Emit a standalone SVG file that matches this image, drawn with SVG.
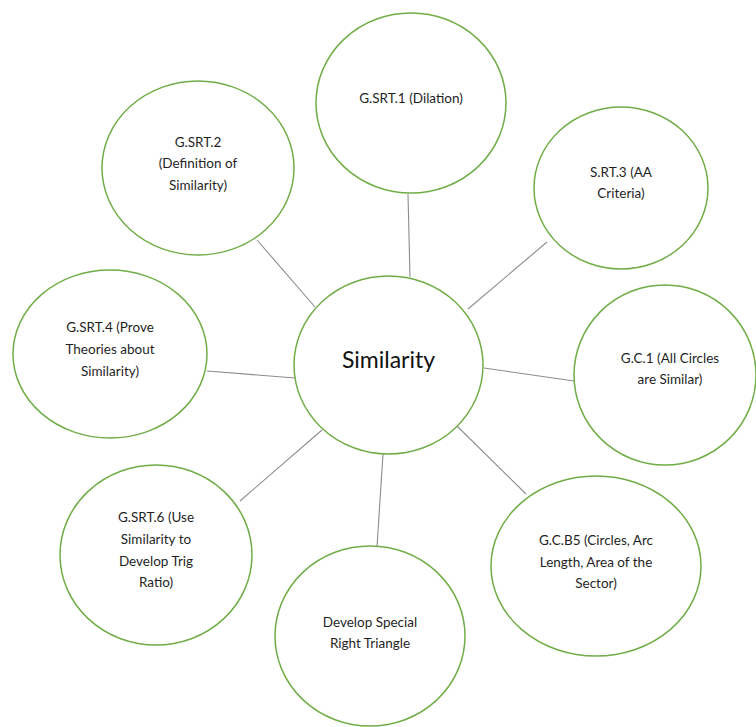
<svg xmlns="http://www.w3.org/2000/svg" width="756" height="727" viewBox="0 0 756 727">
<style>
.n{fill:#fff;stroke:#70ad47;stroke-width:1.5}
.c line{stroke:#8c8c8c;stroke-width:1.1}
text{font-family:Lato,"Liberation Sans",sans-serif;font-size:13.5px;fill:#1f1f1f;text-anchor:middle}
.big{font-size:23px;fill:#111}
</style>
<rect width="756" height="727" fill="#fff"/>
<g class="c" id="connectors">
<line x1="408" y1="194" x2="410" y2="277"/>
<line x1="547" y1="242" x2="468" y2="309"/>
<line x1="257" y1="240" x2="315" y2="307"/>
<line x1="207" y1="371" x2="295" y2="378"/>
<line x1="484" y1="368" x2="574" y2="381"/>
<line x1="457" y1="426" x2="526" y2="494"/>
<line x1="383" y1="454" x2="377" y2="547"/>
<line x1="240" y1="501" x2="322" y2="430"/>
</g>
<g id="n-similarity">
<ellipse class="n" cx="388.5" cy="365" rx="94.5" ry="89"/>
<text class="big" x="388.5" y="368">Similarity</text>
</g>
<g id="n-gsrt1">
<ellipse class="n" cx="411" cy="103" rx="95" ry="90"/>
<text x="411" y="103">G.SRT.1 (Dilation)</text>
</g>
<g id="n-gsrt2">
<ellipse class="n" cx="198" cy="168" rx="96" ry="87"/>
<text x="198" y="147">G.SRT.2</text>
<text x="198" y="168">(Definition of</text>
<text x="198" y="190">Similarity)</text>
</g>
<g id="n-srt3">
<ellipse class="n" cx="621" cy="188" rx="87" ry="81"/>
<text x="621" y="177">S.RT.3 (AA</text>
<text x="621" y="198">Criteria)</text>
</g>
<g id="n-gsrt4">
<ellipse class="n" cx="110" cy="354" rx="97" ry="84"/>
<text x="110" y="332">G.SRT.4 (Prove</text>
<text x="110" y="354">Theories about</text>
<text x="110" y="376">Similarity)</text>
</g>
<g id="n-gc1">
<ellipse class="n" cx="665" cy="375" rx="91" ry="90"/>
<text x="670" y="363">G.C.1 (All Circles</text>
<text x="670" y="384">are Similar)</text>
</g>
<g id="n-gsrt6">
<ellipse class="n" cx="156" cy="555" rx="96" ry="90"/>
<text x="156" y="522">G.SRT.6 (Use</text>
<text x="156" y="544">Similarity to</text>
<text x="156" y="566">Develop Trig</text>
<text x="156" y="587">Ratio)</text>
</g>
<g id="n-develop">
<ellipse class="n" cx="370" cy="636" rx="95" ry="90"/>
<text x="370" y="627">Develop Special</text>
<text x="370" y="648">Right Triangle</text>
</g>
<g id="n-gcb5">
<ellipse class="n" cx="596" cy="566" rx="105" ry="90"/>
<text x="596" y="545">G.C.B5 (Circles, Arc</text>
<text x="596" y="567">Length, Area of the</text>
<text x="596" y="588">Sector)</text>
</g>
</svg>
